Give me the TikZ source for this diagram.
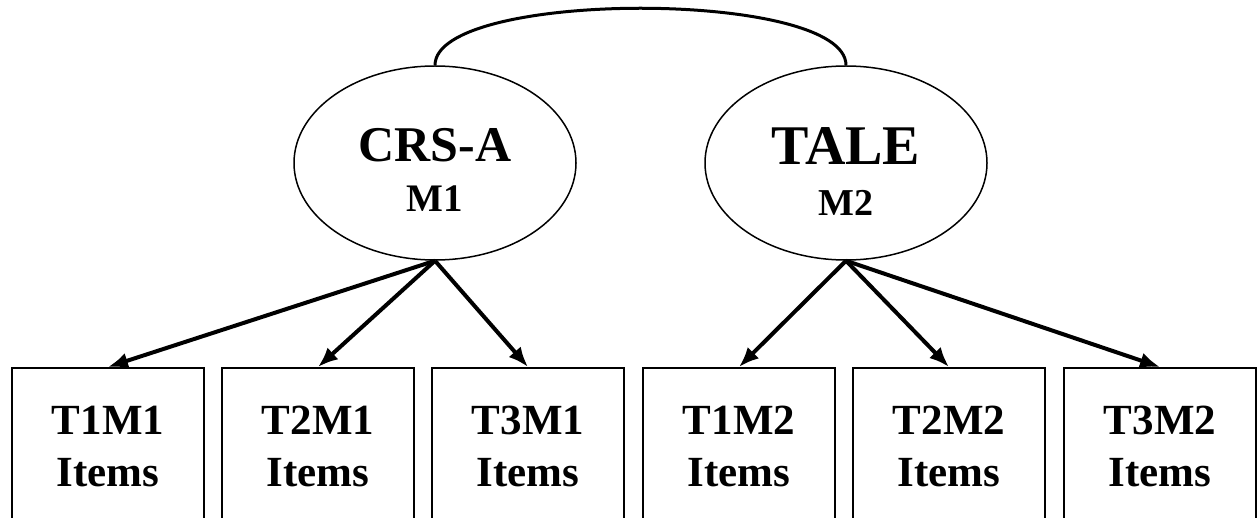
\documentclass[tikz,border=0pt]{standalone}
\usepackage{fontspec}
\setmainfont{Liberation Serif}
\usetikzlibrary{shapes.geometric,arrows.meta}
\tikzset{
  latent/.style={draw, line width=1.5pt, ellipse, inner sep=0pt,
    minimum width=282pt, minimum height=194pt},
  bigname/.style={anchor=base, inner sep=0pt, font=\bfseries\fontsize{#1}{#1}\selectfont},
  itembox/.style={draw, line width=1.5pt, rectangle, inner sep=0pt, anchor=north,
    minimum width=192pt, minimum height=158pt, align=center,
    font=\bfseries\fontsize{43}{52}\selectfont},
  load/.style={line width=4pt, -{Latex[length=20pt,width=16pt]}},
  cov/.style={line width=3pt}
}
\begin{document}
\begin{tikzpicture}[x=1pt, y=-1pt]
  \clip (0,0) rectangle (1257,518);
  \useasboundingbox (0,0) rectangle (1257,518);

  % latent factors
  \node[latent] (crs)  at (435,163) {};
  \node[latent] (tale) at (846,163) {};
  \node[bigname=50] (crsName)  at (435,162) {CRS-A};
  \node[bigname=39] (crsMeth)  at (435,212) {M1};
  \node[bigname=56] (taleName) at (846,165) {TALE};
  \node[bigname=38] (taleMeth) at (846,216) {M2};

  % indicator boxes
  \node[itembox] (t1m1) at (108,367)  {T1M1\\Items};
  \node[itembox] (t2m1) at (318,367)  {T2M1\\Items};
  \node[itembox] (t3m1) at (528,367)  {T3M1\\Items};
  \node[itembox] (t1m2) at (739,367)  {T1M2\\Items};
  \node[itembox] (t2m2) at (949,367)  {T2M2\\Items};
  \node[itembox] (t3m2) at (1160,367) {T3M2\\Items};

  % factor covariance
  \draw[cov] (crs.north) .. controls +(0,-76) and +(0,-76) .. (tale.north);

  % loadings
  \foreach \b in {t1m1,t2m1,t3m1} \draw[load] (crs.south) -- (\b.north);
  \foreach \b in {t1m2,t2m2,t3m2} \draw[load] (tale.south) -- (\b.north);
\end{tikzpicture}
\end{document}
